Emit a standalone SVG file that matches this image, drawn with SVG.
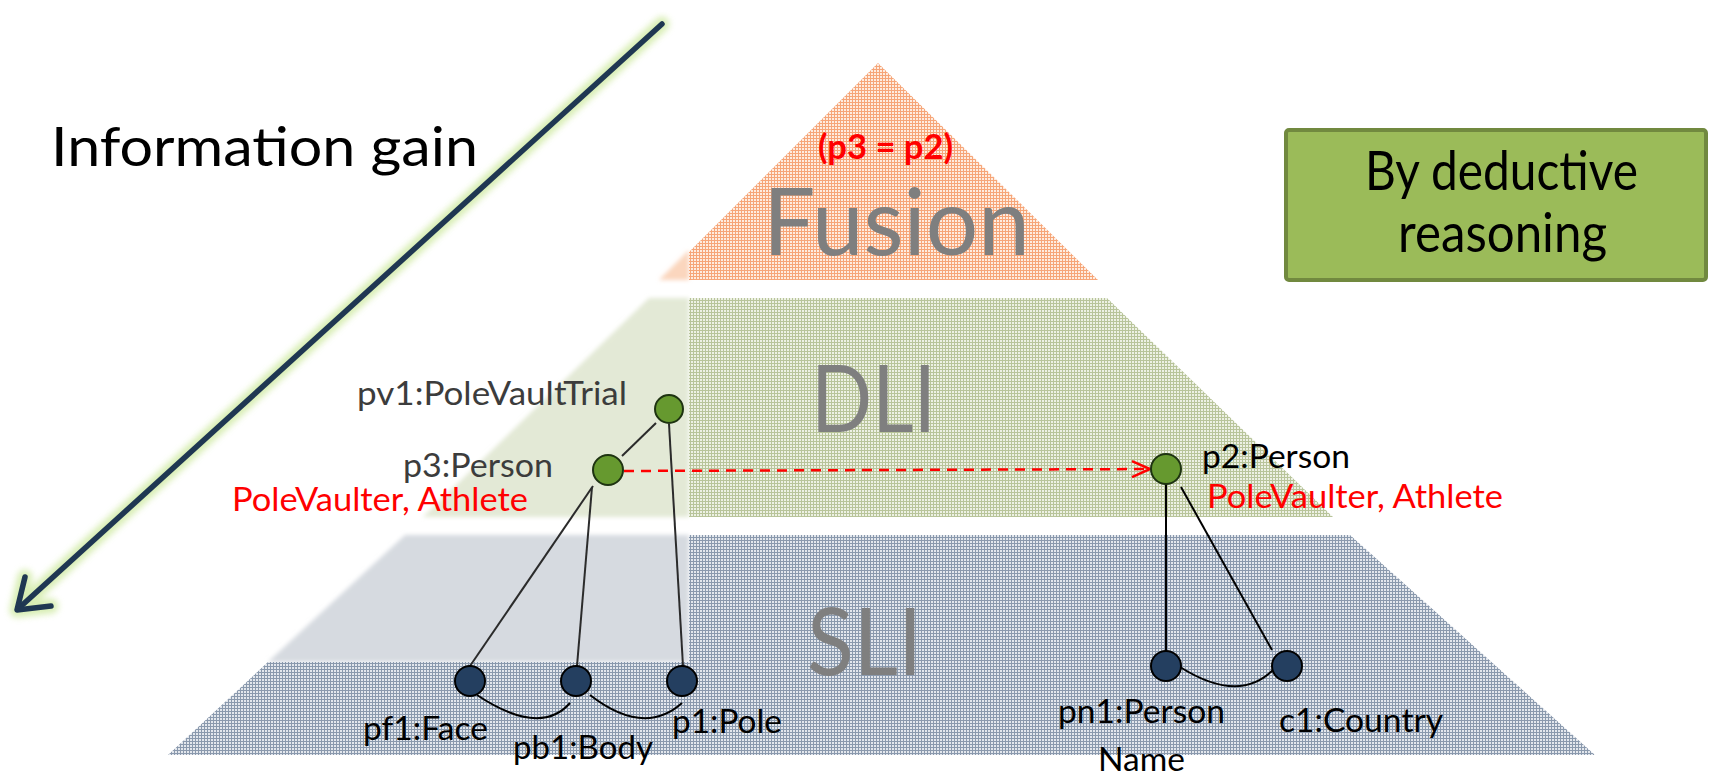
<svg xmlns="http://www.w3.org/2000/svg" width="1717" height="775" viewBox="0 0 1717 775">
<style>
  text { font-family: Lato, "Liberation Sans", sans-serif; }
  .big { font-size: 54px; fill: #000; }
  .layer { font-size: 93px; fill: #7f7f7f; }
  .lbl { font-size: 32px; fill: #000; }
  .lblf { font-size: 32px; fill: #3c3c3c; }
  .red { font-size: 32px; fill: #ff0000; }
  .gnode { fill: #66992f; stroke: #1e3311; stroke-width: 2; }
  .bnode { fill: #243f60; stroke: #000; stroke-width: 2; }
  .edge { fill: none; stroke: #000; stroke-width: 2; }
  .edgef { fill: none; stroke: #2b2b2b; stroke-width: 2; }
</style>
<defs>
  <pattern id="pF" width="3" height="3" patternUnits="userSpaceOnUse">
    <rect width="3" height="3" fill="#feece0"/>
    <rect width="3" height="1" fill="#f6a578"/>
    <rect width="1" height="3" fill="#f6a578"/>
  </pattern>
  <pattern id="pD" width="3" height="3" patternUnits="userSpaceOnUse">
    <rect width="3" height="3" fill="#edf1e4"/>
    <rect width="3" height="1" fill="#b8c49a"/>
    <rect width="1" height="3" fill="#b8c49a"/>
  </pattern>
  <pattern id="pS" width="3" height="3" patternUnits="userSpaceOnUse">
    <rect width="3" height="3" fill="#e3e7ed"/>
    <rect width="3" height="1" fill="#8a99ad"/>
    <rect width="1" height="3" fill="#8a99ad"/>
  </pattern>
  <filter id="soft" x="-10%" y="-10%" width="120%" height="120%">
    <feGaussianBlur stdDeviation="2"/>
  </filter>
  <filter id="glow" x="-10%" y="-10%" width="120%" height="120%">
    <feGaussianBlur stdDeviation="3"/>
  </filter>
  <marker id="chev" markerUnits="userSpaceOnUse" markerWidth="24" markerHeight="24" refX="20" refY="10" orient="auto">
    <path d="M2,2 L20,10 L2,18" fill="none" stroke="#ff0000" stroke-width="2.5"/>
  </marker>
</defs>
<rect width="1717" height="775" fill="#ffffff"/>

<!-- faded left parts of the pyramid -->
<g id="faded" filter="url(#soft)">
  <polygon points="659,280 689,250 689,280" fill="#fbd6be"/>
  <polygon points="649,298 689,298 689,517 423,517" fill="#e3e9d6"/>
  <polygon points="405,535 689,535 689,662 268,662" fill="#d6dae0"/>
</g>
<!-- patterned parts of the pyramid -->
<g id="layers">
  <polygon points="689,252 878,63 1098,280 689,280" fill="url(#pF)"/>
  <polygon points="689,298 1107,298 1333,517 689,517" fill="url(#pD)"/>
  <polygon points="689,535 1350,535 1595,755 168,755 268,662 689,662" fill="url(#pS)"/>
</g>

<!-- layer labels -->
<text class="layer" x="763" y="255" textLength="267" lengthAdjust="spacingAndGlyphs">Fusion</text>
<text class="layer" x="811" y="432" textLength="125" lengthAdjust="spacingAndGlyphs">DLI</text>
<text class="layer" x="807" y="675" textLength="115" lengthAdjust="spacingAndGlyphs">SLI</text>
<text x="818" y="159" font-size="34" font-weight="bold" fill="#ff0000" textLength="135" lengthAdjust="spacingAndGlyphs">(p3 = p2)</text>

<!-- information gain arrow -->
<g id="info-arrow">
  <g filter="url(#glow)" opacity="0.85">
    <line x1="662" y1="24" x2="19" y2="608" stroke="#d2eba8" stroke-width="15" stroke-linecap="round"/>
    <path d="M51,606 L17,610 L25,577" fill="none" stroke="#d2eba8" stroke-width="15" stroke-linecap="round" stroke-linejoin="round"/>
  </g>
  <line x1="662" y1="24" x2="19" y2="608" stroke="#1f3752" stroke-width="5.5" stroke-linecap="round"/>
  <path d="M51,606 L17,610 L25,577" fill="none" stroke="#1f3752" stroke-width="5.5" stroke-linecap="round" stroke-linejoin="round"/>
  <text class="big" x="51" y="166" font-size="56" textLength="427" lengthAdjust="spacingAndGlyphs">Information gain</text>
</g>

<!-- deductive reasoning box -->
<g id="deductive-box">
  <rect x="1286" y="130" width="420" height="150" rx="3" fill="#9bbb59" stroke="#71893f" stroke-width="4"/>
  <text class="big" x="1365" y="190" textLength="273" lengthAdjust="spacingAndGlyphs">By deductive</text>
  <text class="big" x="1398" y="252" textLength="209" lengthAdjust="spacingAndGlyphs">reasoning</text>
</g>

<!-- connectors -->
<g id="connectors">
  <line class="edgef" x1="656" y1="423" x2="622" y2="456"/>
  <line class="edgef" x1="669" y1="424" x2="683" y2="666"/>
  <line class="edgef" x1="593" y1="486" x2="470" y2="666"/>
  <line class="edgef" x1="592" y1="487" x2="577" y2="666"/>
  <path class="edge" d="M477,695 Q540,737 570,703"/>
  <path class="edge" d="M590,695 Q644,737 682,703"/>
  <line class="edge" x1="1166" y1="484" x2="1166" y2="651"/>
  <line class="edge" x1="1181" y1="487" x2="1272" y2="650"/>
  <path class="edge" d="M1180,667 Q1239,704 1273,670"/>
  <line x1="624" y1="471" x2="1150" y2="469" stroke="#ff0000" stroke-width="2.5" stroke-dasharray="10,7" marker-end="url(#chev)"/>
</g>

<!-- nodes -->
<g id="pv1">
  <circle class="gnode" cx="669" cy="409" r="14"/>
  <text class="lblf" x="357" y="405" textLength="270" lengthAdjust="spacingAndGlyphs">pv1:PoleVaultTrial</text>
</g>
<g id="p3">
  <circle class="gnode" cx="608" cy="470" r="15"/>
  <text class="lblf" x="403" y="477" textLength="150" lengthAdjust="spacingAndGlyphs">p3:Person</text>
  <text class="red" x="232" y="511" textLength="296" lengthAdjust="spacingAndGlyphs">PoleVaulter, Athlete</text>
</g>
<g id="p2">
  <circle class="gnode" cx="1166" cy="469" r="15"/>
  <text class="lbl" x="1202" y="468" textLength="148" lengthAdjust="spacingAndGlyphs">p2:Person</text>
  <text class="red" x="1207" y="508" textLength="296" lengthAdjust="spacingAndGlyphs">PoleVaulter, Athlete</text>
</g>
<g id="pf1">
  <circle class="bnode" cx="470" cy="681" r="15"/>
  <text class="lbl" x="363" y="740" textLength="125" lengthAdjust="spacingAndGlyphs">pf1:Face</text>
</g>
<g id="pb1">
  <circle class="bnode" cx="576" cy="681" r="15"/>
  <text class="lbl" x="513" y="759" textLength="140" lengthAdjust="spacingAndGlyphs">pb1:Body</text>
</g>
<g id="p1">
  <circle class="bnode" cx="682" cy="681" r="15"/>
  <text class="lbl" x="672" y="733" textLength="110" lengthAdjust="spacingAndGlyphs">p1:Pole</text>
</g>
<g id="pn1">
  <circle class="bnode" cx="1166" cy="666" r="15"/>
  <text class="lbl" x="1058" y="723" textLength="167" lengthAdjust="spacingAndGlyphs">pn1:Person</text>
  <text class="lbl" x="1098" y="771" textLength="87" lengthAdjust="spacingAndGlyphs">Name</text>
</g>
<g id="c1">
  <circle class="bnode" cx="1287" cy="666" r="15"/>
  <text class="lbl" x="1279" y="732" textLength="164" lengthAdjust="spacingAndGlyphs">c1:Country</text>
</g>
</svg>
